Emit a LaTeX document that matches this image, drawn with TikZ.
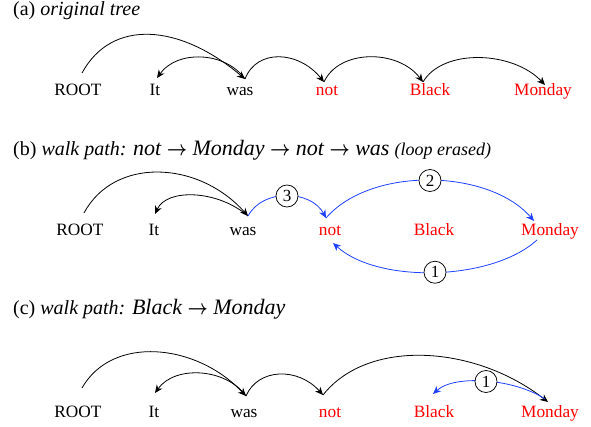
\documentclass[tikz,border=0pt]{standalone}
\usepackage{fontspec}
\usepackage{graphicx}
\setmainfont{Liberation Serif}
\newfontfamily\timesf{Liberation Serif}
\usetikzlibrary{arrows.meta}
\definecolor{wred}{RGB}{255,0,0}
\definecolor{wblue}{RGB}{30,65,255}
\begin{document}
\begin{tikzpicture}[x=1pt,y=-1pt,
  word/.style={anchor=base, inner sep=0pt, font=\timesf\fontsize{17.3}{20}\selectfont},
  redword/.style={word, text=wred},
  title/.style={anchor=base west, inner sep=0pt, font=\timesf\fontsize{20}{24}\selectfont},
  dep/.style={draw=black, line width=0.8pt, -{Stealth[length=8pt,width=7pt,inset=2.5pt]}},
  walk/.style={dep, draw=wblue},
  stepnum/.style={circle, draw=black, fill=white, line width=0.75pt, inner sep=0pt, minimum size=22pt, font=\timesf\fontsize{17}{19}\selectfont},
]
\useasboundingbox (0,0) rectangle (591,427);

\newcommand{\pathw}[1]{{\fontsize{22}{24}\selectfont\itshape #1}}
\newcommand{\wto}{\scalebox{0.85}[1]{\boldmath$\rightarrow$}}

% ---------------- (a) ----------------
\node[title] (ta) at (13,16) {(a) \textit{original tree}};
\node[word] (aROOT) at (78,96) {ROOT};
\node[word] (aIt) at (155,96) {It};
\node[word] (aWas) at (240,96) {was};
\node[redword] (aNot) at (327,96) {not};
\node[redword] (aBlack) at (430,96) {Black};
\node[redword] (aMonday) at (543,96) {Monday};
\coordinate (aRt) at (82,73);
\coordinate (aIt-t) at (157,78);
\coordinate (aWt) at (245,79);
\coordinate (aNt) at (324,82);
\coordinate (aBt) at (423,82);
\coordinate (aMt) at (545,85);
\draw[dep] (aRt) .. controls +(30,-55) and +(-65,-55) .. (aWt);
\draw[dep] (aWt) .. controls +(-20,-28) and +(20,-28) .. (aIt-t);
\draw[dep] (aWt) .. controls +(12,-31) and +(-25,-31) .. (aNt);
\draw[dep] (aNt) .. controls +(15,-33) and +(-25,-33) .. (aBt);
\draw[dep] (aBt) .. controls +(20,-34) and +(-32,-34) .. (aMt);

% ---------------- (b) ----------------
\node[title] (tb) at (13,156) {(b) \textit{walk path:} \pathw{not \wto{} Monday \wto{} not \wto{} was} {\fontsize{18}{22}\selectfont\itshape (loop erased)}};
\node[word] (bROOT) at (80,236) {ROOT};
\node[word] (bIt) at (154,236) {It};
\node[word] (bWas) at (243,236) {was};
\node[redword] (bNot) at (330,236) {not};
\node[redword] (bBlack) at (434,236) {Black};
\node[redword] (bMonday) at (550,236) {Monday};
\coordinate (bRt) at (84,213);
\coordinate (bIt-t) at (155,214);
\coordinate (bWt) at (248,216);
\coordinate (bNt) at (326,218);
\coordinate (bMt) at (534,221);
\coordinate (bMb) at (537,240);
\coordinate (bNb) at (333,243);
\draw[dep] (bRt) .. controls +(30,-56) and +(-50,-56) .. (bWt);
\draw[dep] (bWt) .. controls +(-30,-26) and +(12,-26) .. (bIt-t);
\draw[walk] (bWt) .. controls +(15,-28) and +(-15,-28) .. node[stepnum, pos=0.5] (s3) {3} (bNt);
\draw[walk] (bNt) .. controls +(45,-52) and +(-45,-52) .. node[stepnum, pos=0.5] (s2) {2} (bMt);
\draw[walk] (bMb) .. controls +(-45,41) and +(45,41) .. node[stepnum, pos=0.5] (s1) {1} (bNb);

% ---------------- (c) ----------------
\node[title] (tc) at (13,314) {(c) \textit{walk path:} \pathw{Black \wto{} Monday}};
\node[word] (cROOT) at (78,417) {ROOT};
\node[word] (cIt) at (154,417) {It};
\node[word] (cWas) at (244,417) {was};
\node[redword] (cNot) at (330,417) {not};
\node[redword] (cBlack) at (434,417) {Black};
\node[redword] (cMonday) at (550,417) {Monday};
\coordinate (cRt) at (82,388);
\coordinate (cIt-t) at (155,393);
\coordinate (cWt) at (246,396);
\coordinate (cNt) at (323,395);
\coordinate (cMt) at (548,402);
\coordinate (cMb) at (545,399);
\coordinate (cBt) at (433,394);
\draw[dep] (cRt) .. controls +(30,-53) and +(-50,-53) .. (cWt);
\draw[dep] (cWt) .. controls +(-20,-28) and +(20,-28) .. (cIt-t);
\draw[dep] (cWt) .. controls +(12,-28) and +(-25,-28) .. (cNt);
\draw[dep] (cNt) .. controls +(45,-57) and +(-73,-57) .. (cMt);
\draw[walk] (cMb) .. controls +(-30,-20) and +(22,-20) .. node[stepnum, pos=0.5] (c1) {1} (cBt);
\end{tikzpicture}
\end{document}
